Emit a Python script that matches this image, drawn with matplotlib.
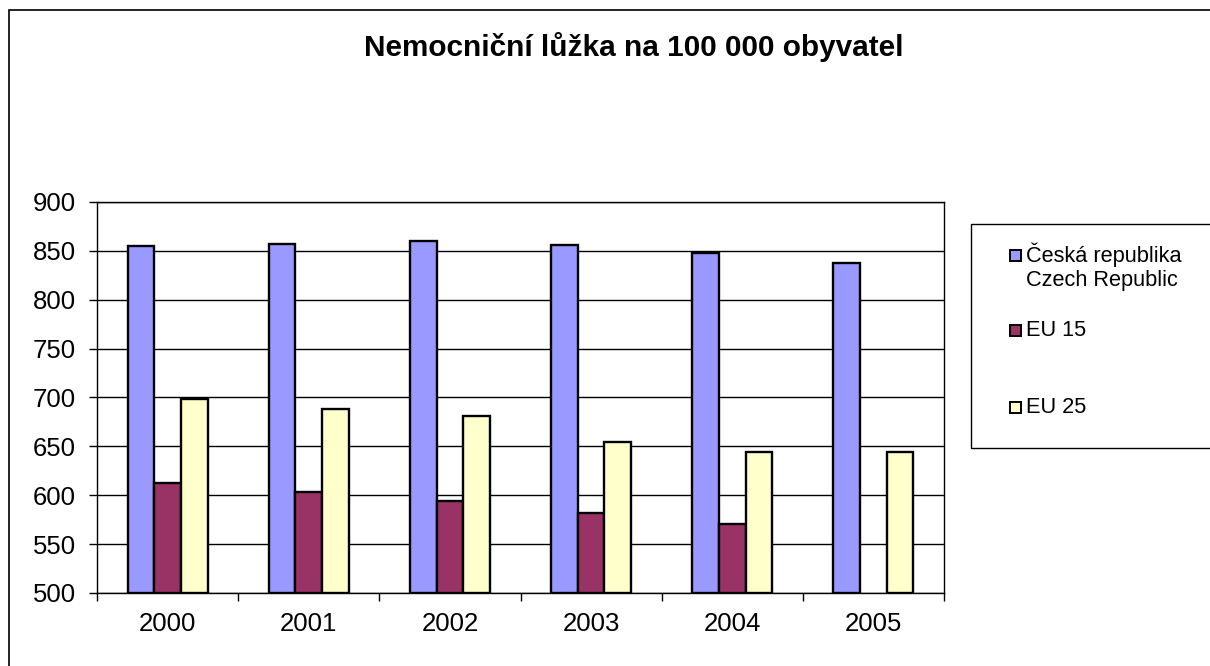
import matplotlib
matplotlib.use("Agg")
import matplotlib.pyplot as plt
from matplotlib.patches import Rectangle
import numpy as np

plt.rcParams['font.family'] = ['Liberation Sans', 'DejaVu Sans']

years = ["2000", "2001", "2002", "2003", "2004", "2005"]
cz = [855, 857, 860, 856, 848, 838]
eu15 = [613, 603, 594, 582, 571, np.nan]
eu25 = [698, 688, 681, 654, 644, 644]
series_labels = ["Česká republika\nCzech Republic", "EU 15", "EU 25"]
colors = ["#9999FF", "#993366", "#FFFFCC"]
title = "Nemocniční lůžka na 100 000 obyvatel"

W, H = 1210, 666
fig = plt.figure(figsize=(W / 100, H / 100), dpi=100)

# outer chart border
fig.add_artist(Rectangle((8.5 / W, -0.01), 1.02, (H - 10) / H + 0.01, transform=fig.transFigure,
                         fill=False, edgecolor="black", linewidth=1.2))

ax = fig.add_axes([97 / W, (H - 593) / H, (944 - 97) / W, (593 - 202) / H])

x = np.arange(len(years))
bw = 0.189
for i, (vals, c) in enumerate(zip([cz, eu15, eu25], colors)):
    v = np.array(vals, dtype=float)
    mask = ~np.isnan(v)
    ax.bar(x[mask] + (i - 1) * bw, v[mask] - 500, bottom=500, width=bw,
           color=c, edgecolor="black", linewidth=1.7, zorder=3)

ax.set_ylim(500, 900)
ax.set_xlim(-0.5, len(years) - 0.5)
ax.set_yticks(np.arange(500, 901, 50))
ax.yaxis.grid(True, color="black", linewidth=1.0, zorder=0)
ax.set_xticks(x)
ax.set_xticklabels(years)
ax.set_xticks(np.arange(-0.5, len(years), 1), minor=True)
ax.tick_params(axis="x", which="major", length=0, pad=14, labelsize=18.5)
ax.tick_params(axis="x", which="minor", length=6, width=1, direction="out")
ax.tick_params(axis="y", length=6, width=1, direction="out", pad=9, labelsize=18.5)
for s in ax.spines.values():
    s.set_linewidth(1.0)

fig.text(634 / W, 1 - 47 / H, title, ha="center", va="center",
         fontsize=21.4, fontweight="bold")

# legend box
lx0, ly0, lx1, ly1 = 971, 224, 1215, 448
fig.add_artist(Rectangle((lx0 / W, 1 - ly1 / H), (lx1 - lx0) / W, (ly1 - ly0) / H,
                         transform=fig.transFigure, fill=False, edgecolor="black", linewidth=1.0))
entry_y = [255, 330, 407]
for lab, c, yy in zip(series_labels, colors, entry_y):
    fig.add_artist(Rectangle((1010 / W, 1 - (yy + 5.5) / H), 11 / W, 11 / H,
                             transform=fig.transFigure, facecolor=c, edgecolor="black", linewidth=1.4))
    for k, ln in enumerate(lab.split("\n")):
        fig.text(1026 / W, 1 - (yy + k * 25) / H, ln, ha="left", va="center", fontsize=15.7)

fig.savefig("out.png", dpi=100)
